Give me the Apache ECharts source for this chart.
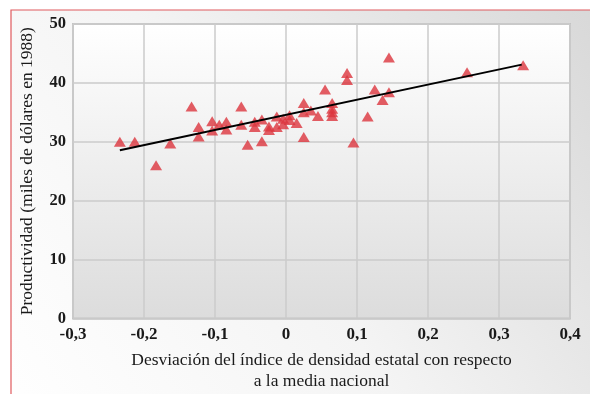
<!DOCTYPE html>
<html>
<head>
<meta charset="utf-8">
<script src="https://cdn.jsdelivr.net/npm/echarts@6/dist/echarts.min.js"></script>
<style>html,body{margin:0;padding:0;background:#fff;}#c{width:590px;height:394px;}</style>
</head>
<body>
<div id="c"></div>
<script>
// Data
var xVals = [-0.234,-0.213,-0.183,-0.163,-0.133,-0.123,-0.123,-0.104,-0.104,-0.094,-0.084,-0.084,-0.063,-0.063,-0.054,-0.044,-0.044,-0.034,-0.034,-0.024,-0.024,-0.013,-0.013,-0.004,-0.004,0.005,0.005,0.015,0.025,0.025,0.025,0.035,0.045,0.055,0.065,0.065,0.065,0.065,0.086,0.086,0.095,0.115,0.125,0.136,0.145,0.145,0.255,0.334];
var yVals = [30.0,30.0,26.0,29.7,36.0,32.5,30.9,33.5,31.9,32.9,33.4,32.1,36.0,32.9,29.5,33.4,32.5,33.8,30.1,32.6,32.0,34.3,32.5,33.9,33.0,34.5,33.7,33.2,36.6,30.8,35.0,35.3,34.4,38.9,36.6,35.6,35.0,34.4,41.7,40.5,29.9,34.3,38.9,37.1,44.3,38.4,41.8,43.0];
var trendX = [-0.234, 0.332];
var trendY = [28.55, 43.1];
var xName = 'Desviación del índice de densidad estatal con respecto\na la media nacional';
var yName = 'Productividad (miles de dólares en 1988)';

var pts = xVals.map(function(x,i){return [x,yVals[i]];});
var line = trendX.map(function(x,i){return [x,trendY[i]];});
function fmt(v){ if(Math.abs(v)<1e-9) return '0'; return (Math.round(v*10)/10).toFixed(1).replace('.',','); }

var chart = echarts.init(document.getElementById('c'), null, {renderer:'canvas'});
var FONT = '"Liberation Serif", "DejaVu Serif", serif';
chart.setOption({
  backgroundColor: '#ffffff',
  animation: false,
  graphic: [{
    type: 'rect', z: -10, silent: true,
    shape: {x: 11, y: 10, width: 620, height: 420},
    style: {
      fill: new echarts.graphic.LinearGradient(1, 0, 0, 1, [
        {offset: 0, color: '#d6d6d6'},
        {offset: 0.55, color: '#f4f4f4'},
        {offset: 1, color: '#ffffff'}
      ]),
      stroke: '#e05a5e', lineWidth: 1.2
    }
  }],
  grid: {
    left: 73, right: 20, top: 24, bottom: 75.5,
    outerBoundsMode: 'none',
    containLabel: false,
    show: true,
    borderColor: '#c3c3c3', borderWidth: 2,
    backgroundColor: new echarts.graphic.LinearGradient(0, 0, 0, 1, [
      {offset: 0, color: '#ffffff'},
      {offset: 1, color: '#dcdcdc'}
    ])
  },
  xAxis: {
    type: 'value', min: -0.3, max: 0.4, interval: 0.1,
    name: xName, nameLocation: 'middle', nameGap: 31,
    nameTextStyle: {fontFamily: FONT, fontSize: 17.5, color: '#1a1a1a', lineHeight: 21},
    axisLine: {show: false}, axisTick: {show: false},
    axisLabel: {formatter: fmt, fontFamily: FONT, fontSize: 17, fontWeight: 'bold', color: '#1a1a1a', margin: 8},
    splitLine: {show: true, lineStyle: {color: '#cbcbcb', width: 1.5}}
  },
  yAxis: {
    type: 'value', min: 0, max: 50, interval: 10,
    name: yName, nameLocation: 'middle', nameGap: 37,
    nameTextStyle: {fontFamily: FONT, fontSize: 17.5, color: '#1a1a1a'},
    axisLine: {show: false}, axisTick: {show: false},
    axisLabel: {fontFamily: FONT, fontSize: 16.5, fontWeight: 'bold', color: '#1a1a1a', margin: 7},
    splitLine: {show: true, lineStyle: {color: '#cbcbcb', width: 1.5}}
  },
  series: [{
    type: 'scatter', data: pts, symbol: 'triangle', symbolSize: [12, 10],
    itemStyle: {color: '#dc353d'}, z: 3
  }, {
    type: 'line', data: line, showSymbol: false, symbol: 'none',
    lineStyle: {color: '#000', width: 2}, z: 4
  }]
});
</script>
</body>
</html>
